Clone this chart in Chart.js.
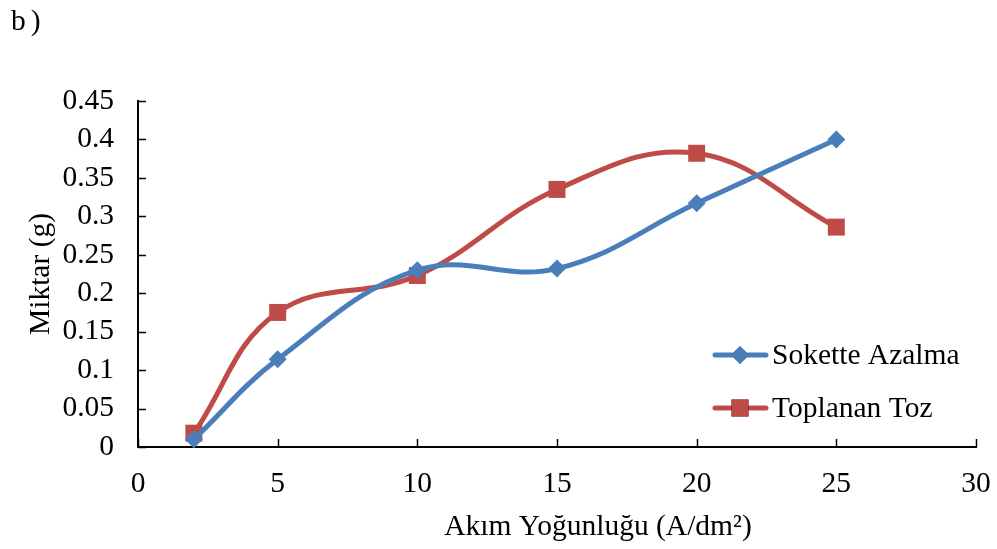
<!DOCTYPE html>
<html>
<head>
<meta charset="utf-8">
<script src="https://cdn.jsdelivr.net/npm/chart.js@4/dist/chart.umd.min.js"></script>
<style>
  html, body { margin: 0; padding: 0; background: #fff; }
  #wrap { width: 997px; height: 549px; }
</style>
</head>
<body>
<div id="wrap"><canvas id="chart" width="997" height="549"></canvas></div>
<script>
// Current density (x) and measured amounts (y)
const xValues = [2, 5, 10, 15, 20, 25];
const sokette = [0.01, 0.114, 0.230, 0.232, 0.317, 0.400];
const toplanan = [0.018, 0.175, 0.223, 0.335, 0.382, 0.286];
const seriesNames = ['Sokette Azalma', 'Toplanan Toz'];
const panelLabel = 'b)';
const xTitle = 'Akım Yoğunluğu (A/dm²)';
const yTitle = 'Miktar (g)';

const FONT = '"Liberation Serif", "Times New Roman", serif';
const FSIZE = 29.5;
const BLUE = '#4A7EBB';
const RED = '#BE4B48';

const toPoints = ys => ys.map((y, i) => ({ x: xValues[i], y: y }));

// Inward tick marks like the original spreadsheet chart
const innerTicks = {
  id: 'innerTicks',
  afterDraw(chart) {
    const { ctx, chartArea: a, scales } = chart;
    ctx.save();
    ctx.strokeStyle = '#000';
    ctx.lineWidth = 1.5;
    scales.x.ticks.forEach(t => {
      const px = Math.round(scales.x.getPixelForValue(t.value)) + 0.5;
      ctx.beginPath();
      ctx.moveTo(px, a.bottom);
      ctx.lineTo(px, a.bottom - 8);
      ctx.stroke();
    });
    scales.y.ticks.forEach(t => {
      const py = Math.round(scales.y.getPixelForValue(t.value)) + 0.5;
      ctx.beginPath();
      ctx.moveTo(a.left, py);
      ctx.lineTo(a.left + 8, py);
      ctx.stroke();
    });
    ctx.restore();
  }
};

// Legend inside the plot area, x-axis title and panel label
const innerLegend = {
  id: 'innerLegend',
  afterDraw(chart) {
    const { ctx } = chart;
    const rows = [355, 408];
    ctx.save();
    chart.data.datasets.forEach((ds, i) => {
      const y = rows[i];
      ctx.strokeStyle = ds.borderColor;
      ctx.lineWidth = 5;
      ctx.lineCap = 'round';
      ctx.beginPath();
      ctx.moveTo(715, y);
      ctx.lineTo(766, y);
      ctx.stroke();
      Chart.helpers.drawPoint(ctx, {
        pointStyle: ds.pointStyle, radius: ds.pointRadius, borderWidth: 0
      }, 740, y);
      ctx.fillStyle = ds.backgroundColor;
      ctx.fill();
      ctx.fillStyle = '#000';
      ctx.font = FSIZE + 'px ' + FONT;
      ctx.textBaseline = 'middle';
      ctx.textAlign = 'left';
      ctx.fillText(ds.label, 772, y + 1);
    });
    ctx.font = FSIZE + 'px ' + FONT;
    ctx.fillStyle = '#000';
    ctx.textAlign = 'center';
    ctx.textBaseline = 'middle';
    ctx.fillText(xTitle, 598, 527);
    ctx.textAlign = 'left';
    ctx.textBaseline = 'alphabetic';
    ctx.letterSpacing = '5px';
    ctx.fillText(panelLabel, 11, 30);
    ctx.restore();
  }
};

const ctx = document.getElementById('chart').getContext('2d');
new Chart(ctx, {
  type: 'line',
  data: {
    datasets: [
      {
        label: seriesNames[0],
        data: toPoints(sokette),
        borderColor: BLUE,
        backgroundColor: BLUE,
        borderWidth: 5,
        tension: 0.4,
        pointStyle: 'rectRot',
        pointRadius: 9,
        pointBorderWidth: 0,
        clip: false
      },
      {
        label: seriesNames[1],
        data: toPoints(toplanan),
        borderColor: RED,
        backgroundColor: RED,
        borderWidth: 5,
        tension: 0.4,
        pointStyle: 'rect',
        pointRadius: 12,
        pointBorderWidth: 0,
        clip: false
      }
    ]
  },
  options: {
    responsive: false,
    animation: false,
    devicePixelRatio: 1,
    layout: { padding: { top: 101, right: 21, left: 0, bottom: 0 } },
    plugins: {
      legend: { display: false },
      tooltip: { enabled: false }
    },
    scales: {
      x: {
        type: 'linear',
        min: 0,
        max: 30,
        afterFit: s => { s.height = 102; s.paddingRight = 0; s.paddingLeft = 0; },
        ticks: {
          stepSize: 5,
          color: '#000',
          padding: 20,
          font: { family: FONT, size: FSIZE }
        },
        grid: { display: false, drawTicks: false },
        border: { display: true, color: '#000', width: 2 },
        title: { display: false }
      },
      y: {
        min: 0,
        max: 0.45,
        afterFit: s => { s.width = 138; },
        ticks: {
          stepSize: 0.05,
          color: '#000',
          padding: 24,
          font: { family: FONT, size: FSIZE },
          callback: v => String(Math.round(v * 100) / 100)
        },
        grid: { display: false, drawTicks: false },
        border: { display: true, color: '#000', width: 2 },
        title: {
          display: true,
          text: yTitle,
          color: '#000',
          font: { family: FONT, size: FSIZE },
          padding: { top: 24, bottom: 0 }
        }
      }
    }
  },
  plugins: [innerTicks, innerLegend]
});
</script>
</body>
</html>
